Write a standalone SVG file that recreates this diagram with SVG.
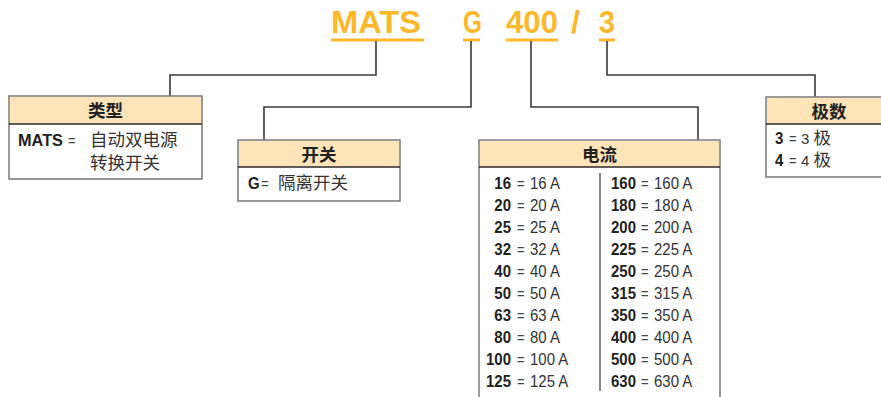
<svg xmlns="http://www.w3.org/2000/svg" width="881" height="397" viewBox="0 0 881 397">
<style>
.code{font-family:"Liberation Sans",Arial,sans-serif;font-weight:bold;font-size:32px;fill:#FDB72B}
.ul{stroke:#FDB72B;stroke-width:3}
.con{fill:none;stroke:#3a3a3a;stroke-width:1.6}
.box{fill:#fff;stroke:#808080;stroke-width:1.6}
.hdr{fill:#FEE4B8;stroke:none}
.hl{stroke:#2a2a2a;stroke-width:1.4}
.ht{font-family:"Noto Sans CJK SC",sans-serif;font-weight:bold;font-size:17.5px;fill:#222;text-anchor:middle}
.b{font-family:"Liberation Sans",Arial,sans-serif;font-weight:bold;font-size:15px;fill:#222}
.r{font-family:"Liberation Sans",Arial,sans-serif;font-size:15px;fill:#333}
.eq{font-family:"Liberation Sans",Arial,sans-serif;font-size:13px;fill:#444}
.cj{font-family:"Noto Sans CJK SC",sans-serif;font-size:17.5px;fill:#333}
.mx{font-family:"Liberation Sans","Noto Sans CJK SC",sans-serif;font-size:15px;fill:#333}
.end{text-anchor:end}
</style>
<g id="code">
<text class="code" x="331" y="33" textLength="90" lengthAdjust="spacingAndGlyphs">MATS</text>
<line class="ul" x1="331" y1="40" x2="424" y2="40"/>
<text class="code" x="463" y="33" textLength="19" lengthAdjust="spacingAndGlyphs">G</text>
<line class="ul" x1="463" y1="40" x2="480" y2="40"/>
<text class="code" x="506" y="33" textLength="52" lengthAdjust="spacingAndGlyphs">400</text>
<line class="ul" x1="506" y1="40" x2="558" y2="40"/>
<text class="code" x="571" y="33">/</text>
<text class="code" x="599" y="33" textLength="16" lengthAdjust="spacingAndGlyphs">3</text>
<line class="ul" x1="599" y1="40" x2="615" y2="40"/>
</g>
<g id="connectors">
<path class="con" d="M376,41 V75 H170 V96"/>
<path class="con" d="M471,41 V107 H264 V140"/>
<path class="con" d="M531,41 V107 H698 V140"/>
<path class="con" d="M607,41 V75 H815 V97"/>
</g>
<g id="type">
<rect class="box" x="9" y="96" width="193" height="83"/>
<rect class="hdr" x="10" y="97" width="191" height="27"/>
<line class="hl" x1="9" y1="124" x2="202" y2="124"/>
<text class="ht" x="105.5" y="117">类型</text>
<g transform="scale(1,1.1)">
<text class="b" x="18" y="132.73" textLength="45" lengthAdjust="spacingAndGlyphs">MATS</text>
<text class="eq" x="68" y="132.73">=</text>
</g>
<text class="cj" x="90" y="146">自动双电源</text>
<text class="cj" x="90" y="169">转换开关</text>
</g>
<g id="switch">
<rect class="box" x="238" y="140" width="162" height="61"/>
<rect class="hdr" x="239" y="141" width="160" height="26"/>
<line class="hl" x1="238" y1="167" x2="400" y2="167"/>
<text class="ht" x="319" y="161">开关</text>
<g transform="scale(1,1.1)">
<text class="b" x="248" y="171.82">G</text>
<text class="eq" x="261" y="171.82">=</text>
</g>
<text class="cj" x="278" y="189">隔离开关</text>
</g>
<g id="current">
<path class="box" d="M479,400 V140 H720 V400"/>
<rect class="hdr" x="480" y="141" width="239" height="26"/>
<line class="hl" x1="479" y1="167" x2="720" y2="167"/>
<text class="ht" x="599.5" y="161">电流</text>
<line x1="600" y1="173" x2="600" y2="391" stroke="#555" stroke-width="1.4"/>
<g transform="scale(1,1.1)">
<g class="b end">
<text x="511" y="171.82">16</text><text x="511" y="191.82">20</text><text x="511" y="211.82">25</text><text x="511" y="231.82">32</text><text x="511" y="251.82">40</text>
<text x="511" y="271.82">50</text><text x="511" y="291.82">63</text><text x="511" y="311.82">80</text><text x="511" y="331.82">100</text><text x="511" y="351.82">125</text>
<text x="636" y="171.82">160</text><text x="636" y="191.82">180</text><text x="636" y="211.82">200</text><text x="636" y="231.82">225</text><text x="636" y="251.82">250</text>
<text x="636" y="271.82">315</text><text x="636" y="291.82">350</text><text x="636" y="311.82">400</text><text x="636" y="331.82">500</text><text x="636" y="351.82">630</text>
</g>
<g class="eq">
<text x="517" y="171.82">=</text><text x="517" y="191.82">=</text><text x="517" y="211.82">=</text><text x="517" y="231.82">=</text><text x="517" y="251.82">=</text>
<text x="517" y="271.82">=</text><text x="517" y="291.82">=</text><text x="517" y="311.82">=</text><text x="517" y="331.82">=</text><text x="517" y="351.82">=</text>
<text x="641" y="171.82">=</text><text x="641" y="191.82">=</text><text x="641" y="211.82">=</text><text x="641" y="231.82">=</text><text x="641" y="251.82">=</text>
<text x="641" y="271.82">=</text><text x="641" y="291.82">=</text><text x="641" y="311.82">=</text><text x="641" y="331.82">=</text><text x="641" y="351.82">=</text>
</g>
<g class="r">
<text x="530" y="171.82">16 A</text><text x="530" y="191.82">20 A</text><text x="530" y="211.82">25 A</text><text x="530" y="231.82">32 A</text><text x="530" y="251.82">40 A</text>
<text x="530" y="271.82">50 A</text><text x="530" y="291.82">63 A</text><text x="530" y="311.82">80 A</text><text x="530" y="331.82">100 A</text><text x="530" y="351.82">125 A</text>
<text x="654" y="171.82">160 A</text><text x="654" y="191.82">180 A</text><text x="654" y="211.82">200 A</text><text x="654" y="231.82">225 A</text><text x="654" y="251.82">250 A</text>
<text x="654" y="271.82">315 A</text><text x="654" y="291.82">350 A</text><text x="654" y="311.82">400 A</text><text x="654" y="331.82">500 A</text><text x="654" y="351.82">630 A</text>
</g>
</g>
</g>
<g id="poles">
<rect class="box" x="766" y="97" width="130" height="80"/>
<rect class="hdr" x="767" y="98" width="128" height="26"/>
<line class="hl" x1="766" y1="124" x2="896" y2="124"/>
<text class="ht" x="829" y="118">极数</text>
<g transform="scale(1,1.1)">
<text class="b" x="775" y="130.91">3</text>
<text class="eq" x="789" y="130.91">=</text>
<text class="b" x="775" y="150.91">4</text>
<text class="eq" x="789" y="150.91">=</text>
</g>
<text class="mx" x="801" y="144">3 <tspan font-size="17.5">极</tspan></text>
<text class="mx" x="801" y="166">4 <tspan font-size="17.5">极</tspan></text>
</g>
</svg>
